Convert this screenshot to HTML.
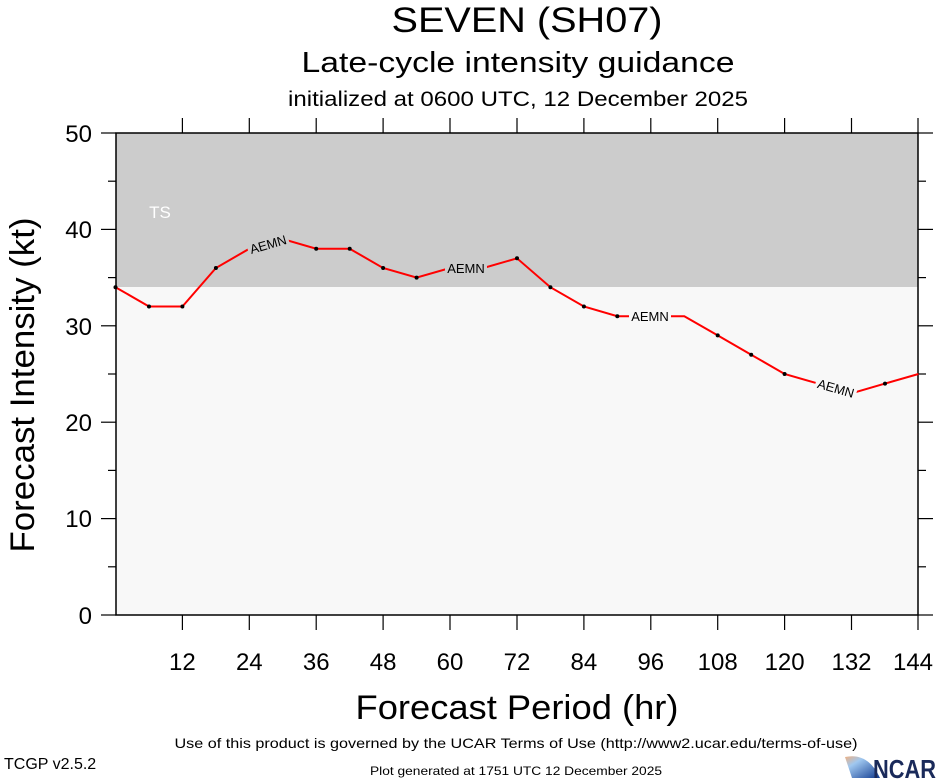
<!DOCTYPE html>
<html><head><meta charset="utf-8"><style>
html,body{margin:0;padding:0;background:#fff;}
svg{display:block;font-family:"Liberation Sans",sans-serif;}
</style></head><body>
<svg width="940" height="780" viewBox="0 0 940 780" xmlns="http://www.w3.org/2000/svg">
<rect x="116" y="133" width="802" height="482" fill="#f8f8f8"/>
<rect x="116" y="133" width="802" height="154" fill="#cccccc"/>
<text x="160" y="218" font-size="17" fill="#fff" text-anchor="middle">TS</text>
<rect x="116" y="133" width="802" height="482" fill="none" stroke="#000" stroke-width="1.5"/>
<g stroke="#000" stroke-width="1.2">
<line x1="101" y1="615" x2="116" y2="615"/><line x1="101" y1="518.6" x2="116" y2="518.6"/>
<line x1="101" y1="422.2" x2="116" y2="422.2"/><line x1="101" y1="325.8" x2="116" y2="325.8"/>
<line x1="101" y1="229.4" x2="116" y2="229.4"/><line x1="101" y1="133" x2="116" y2="133"/>
<line x1="108" y1="566.8" x2="116" y2="566.8"/><line x1="108" y1="470.4" x2="116" y2="470.4"/>
<line x1="108" y1="374" x2="116" y2="374"/><line x1="108" y1="277.6" x2="116" y2="277.6"/>
<line x1="108" y1="181.2" x2="116" y2="181.2"/>
<line x1="918" y1="615" x2="933" y2="615"/><line x1="918" y1="518.6" x2="933" y2="518.6"/>
<line x1="918" y1="422.2" x2="933" y2="422.2"/><line x1="918" y1="325.8" x2="933" y2="325.8"/>
<line x1="918" y1="229.4" x2="933" y2="229.4"/><line x1="918" y1="133" x2="933" y2="133"/>
<line x1="918" y1="566.8" x2="926" y2="566.8"/><line x1="918" y1="470.4" x2="926" y2="470.4"/>
<line x1="918" y1="374" x2="926" y2="374"/><line x1="918" y1="277.6" x2="926" y2="277.6"/>
<line x1="918" y1="181.2" x2="926" y2="181.2"/>
<g id="bt">
<line x1="182.4" y1="615" x2="182.4" y2="630"/><line x1="249.3" y1="615" x2="249.3" y2="630"/>
<line x1="316.2" y1="615" x2="316.2" y2="630"/><line x1="383.1" y1="615" x2="383.1" y2="630"/>
<line x1="450" y1="615" x2="450" y2="630"/><line x1="517" y1="615" x2="517" y2="630"/>
<line x1="583.9" y1="615" x2="583.9" y2="630"/><line x1="650.8" y1="615" x2="650.8" y2="630"/>
<line x1="717.7" y1="615" x2="717.7" y2="630"/><line x1="784.6" y1="615" x2="784.6" y2="630"/>
<line x1="851.5" y1="615" x2="851.5" y2="630"/><line x1="918" y1="615" x2="918" y2="630"/>
</g>
<use href="#bt" transform="translate(0,748) scale(1,-1)"/>
</g>
<g font-size="24" text-anchor="end">
<text x="92" y="624">0</text><text x="92" y="527">10</text><text x="92" y="431">20</text>
<text x="92" y="335">30</text><text x="92" y="238">40</text><text x="92" y="142">50</text>
</g>
<g font-size="24" text-anchor="middle">
<text x="182.4" y="670">12</text><text x="249.3" y="670">24</text><text x="316.2" y="670">36</text>
<text x="383.1" y="670">48</text><text x="450" y="670">60</text><text x="517" y="670">72</text>
<text x="583.9" y="670">84</text><text x="650.8" y="670">96</text><text x="717.7" y="670">108</text>
<text x="784.6" y="670">120</text><text x="851.5" y="670">132</text><text x="913" y="670">144</text>
</g>
<polyline fill="none" stroke="#ff0000" stroke-width="2" points="115.5,287.2 149,306.5 182.4,306.5 215.9,268 249.3,248.7 282.8,239 316.2,248.7 349.7,248.7 383.1,268 416.6,277.6 450,268 483.5,268 517,258.3 550.4,287.2 583.9,306.5 617.3,316.2 650.8,316.2 684.3,316.2 717.7,335.4 751.2,354.7 784.6,374 818.1,383.6 851.5,393.3 885,383.6 918.4,374"/>
<g fill="#000">
<circle cx="115.5" cy="287.2" r="2"/><circle cx="149" cy="306.5" r="2"/><circle cx="182.4" cy="306.5" r="2"/>
<circle cx="215.9" cy="268" r="2"/><circle cx="316.2" cy="248.7" r="2"/><circle cx="349.7" cy="248.7" r="2"/>
<circle cx="383.1" cy="268" r="2"/><circle cx="416.6" cy="277.6" r="2"/><circle cx="517" cy="258.3" r="2"/>
<circle cx="550.4" cy="287.2" r="2"/><circle cx="583.9" cy="306.5" r="2"/><circle cx="617.3" cy="316.2" r="2"/>
<circle cx="717.7" cy="335.4" r="2"/><circle cx="751.2" cy="354.7" r="2"/><circle cx="784.6" cy="374" r="2"/>
<circle cx="818.1" cy="383.6" r="2"/><circle cx="885" cy="383.6" r="2"/>
</g>
<g font-size="13" text-anchor="middle">
<g transform="translate(268,244) rotate(-16)"><rect x="-21" y="-8" width="42" height="15" fill="#cccccc"/><text y="5">AEMN</text></g>
<g transform="translate(466,268)"><rect x="-21" y="-8" width="42" height="15" fill="#cccccc"/><text y="5">AEMN</text></g>
<g transform="translate(650,316)"><rect x="-21" y="-8" width="42" height="15" fill="#f8f8f8"/><text y="5">AEMN</text></g>
<g transform="translate(836,388) rotate(16)"><rect x="-21" y="-8" width="42" height="15" fill="#f8f8f8"/><text y="5">AEMN</text></g>
</g>
<g text-anchor="middle">
<text x="527" y="32" font-size="35" textLength="271" lengthAdjust="spacingAndGlyphs">SEVEN (SH07)</text>
<text x="518" y="72" font-size="29" textLength="433" lengthAdjust="spacingAndGlyphs">Late-cycle intensity guidance</text>
<text x="518" y="106" font-size="21" textLength="460" lengthAdjust="spacingAndGlyphs">initialized at 0600 UTC, 12 December 2025</text>
<text x="517" y="719" font-size="34" textLength="323" lengthAdjust="spacingAndGlyphs">Forecast Period (hr)</text>
<text transform="translate(34,385) rotate(-90)" font-size="34" textLength="335" lengthAdjust="spacingAndGlyphs">Forecast Intensity (kt)</text>
<text x="516" y="748" font-size="14" textLength="683" lengthAdjust="spacingAndGlyphs">Use of this product is governed by the UCAR Terms of Use (http://www2.ucar.edu/terms-of-use)</text>
<text x="516" y="775" font-size="12" textLength="292" lengthAdjust="spacingAndGlyphs">Plot generated at 1751 UTC   12 December 2025</text>
</g>
<text x="4" y="769" font-size="16">TCGP v2.5.2</text>
<defs><linearGradient id="g" x1="0" y1="0" x2="1" y2="1"><stop offset="0" stop-color="#f0b080"/><stop offset="0.3" stop-color="#a0c8f0"/><stop offset="1" stop-color="#103a90"/></linearGradient></defs>
<path d="M845,757 Q868,752 880,778 L852,778 Z" fill="url(#g)"/>
<text x="873" y="778" font-size="26" font-weight="bold" fill="#1a2a5a" textLength="63" lengthAdjust="spacingAndGlyphs">NCAR</text>
</svg>
</body></html>
